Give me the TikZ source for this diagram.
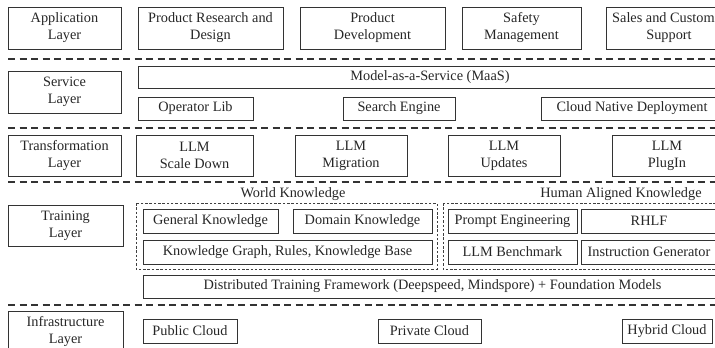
\documentclass[tikz,border=0pt]{standalone}
\usepackage{fontspec}
\setmainfont{Liberation Serif}
\tikzset{
  box/.style={draw=black!80, line width=0.9pt, inner sep=0pt, align=center,
    text=black!85, font=\fontsize{14.3}{17}\selectfont},
  layerbox/.style={box, minimum width=113pt, minimum height=42pt},
  itembox/.style={box, minimum height=24pt},
  groupbox/.style={draw=black!75, line width=0.6pt, dash pattern=on 2.5pt off 1.8pt},
  sepline/.style={draw=black!80, line width=1.1pt, dash pattern=on 7pt off 4.5pt},
  grouplabel/.style={text=black!85, font=\fontsize{14.3}{17}\selectfont}
}
\begin{document}
\begin{tikzpicture}[x=1pt, y=-1pt]
    \useasboundingbox (0,0) rectangle (715,348);
    \clip (0,0) rectangle (715,348);

    % application layer
    \node[layerbox] (appL) at (64.5, 28) {Application\\Layer};
        \node[itembox, minimum width=145pt, minimum height=42pt] (prd) at (210.5, 28) {Product Research and\\Design};
        \node[itembox, minimum width=145pt, minimum height=42pt] (pdev) at (372.5, 28) {Product\\Development};
        \node[itembox, minimum width=119pt, minimum height=42pt] (safe) at (521.5, 28) {Safety\\Management};
        \node[itembox, minimum width=126pt, minimum height=42pt] (sales) at (669, 28) {Sales and Customer\\Support};

    \draw[sepline] (8, 59) -- (722, 59);

    % service layer
    \node[layerbox] (servL) at (64.5, 92) {Service\\Layer};
        \node[itembox, minimum width=584pt, minimum height=22pt] (maas) at (430, 77) {Model-as-a-Service (MaaS)};
        \node[itembox, minimum width=115pt, minimum height=23pt] (oplib) at (195.5, 108.5) {Operator Lib};
        \node[itembox, minimum width=112pt, minimum height=23pt] (search) at (399, 108.5) {Search Engine};
        \node[itembox, minimum width=182pt, minimum height=23pt] (cloud) at (632, 108.5) {Cloud Native Deployment};

    \draw[sepline] (8, 128) -- (722, 128);

    % transformation layer
    \node[layerbox, minimum height=41pt] (transL) at (64.5, 155.5) {Transformation\\Layer};
        \node[itembox, minimum width=117pt, minimum height=41pt] (scale) at (194.5, 155.5) {LLM\\Scale Down};
        \node[itembox, minimum width=112pt, minimum height=41pt] (migr) at (351, 155.5) {LLM\\Migration};
        \node[itembox, minimum width=112pt, minimum height=41pt] (upd) at (504, 155.5) {LLM\\Updates};
        \node[itembox, minimum width=110pt, minimum height=41pt] (plug) at (667, 155.5) {LLM\\PlugIn};

    \draw[sepline] (8, 182) -- (722, 182);

    % training layer
    \node[grouplabel] (worldT) at (293, 194) {World Knowledge};
    \node[grouplabel] (humanT) at (621, 194) {Human Aligned Knowledge};
    \draw[groupbox] (136, 203) rectangle (437, 269);
    \draw[groupbox] (443, 203) rectangle (722, 269);

    \node[layerbox, minimum width=115pt, minimum height=41pt] (trainL) at (65.5, 225.5) {Training\\Layer};
        \node[itembox, minimum width=135pt] (gen) at (210.5, 221) {General Knowledge};
        \node[itembox, minimum width=139pt] (dom) at (362.5, 221) {Domain Knowledge};
        \node[itembox, minimum width=129pt] (prompt) at (512.5, 221) {Prompt Engineering};
        \node[itembox, minimum width=136pt] (rhlf) at (649, 221) {RHLF};
        \node[itembox, minimum width=289pt] (kg) at (287.5, 252) {Knowledge Graph, Rules, Knowledge Base};
        \node[itembox, minimum width=129pt] (bench) at (512.5, 252) {LLM Benchmark};
        \node[itembox, minimum width=136pt] (instr) at (649, 252) {Instruction Generator};
        \node[itembox, minimum width=579pt, minimum height=23pt] (dist) at (432.5, 286.5) {Distributed Training Framework (Deepspeed, Mindspore) + Foundation Models};

    \draw[sepline] (8, 305) -- (722, 305);

    % infrastructure layer
    \node[layerbox, minimum width=115pt, minimum height=41pt] (infraL) at (65.5, 331.5) {Infrastructure\\Layer};
        \node[itembox, minimum width=94pt] (pub) at (190, 331) {Public Cloud};
        \node[itembox, minimum width=103pt] (priv) at (429.5, 331) {Private Cloud};
        \node[itembox, minimum width=90pt] (hyb) at (667, 331) {Hybrid Cloud};

\end{tikzpicture}
\end{document}
